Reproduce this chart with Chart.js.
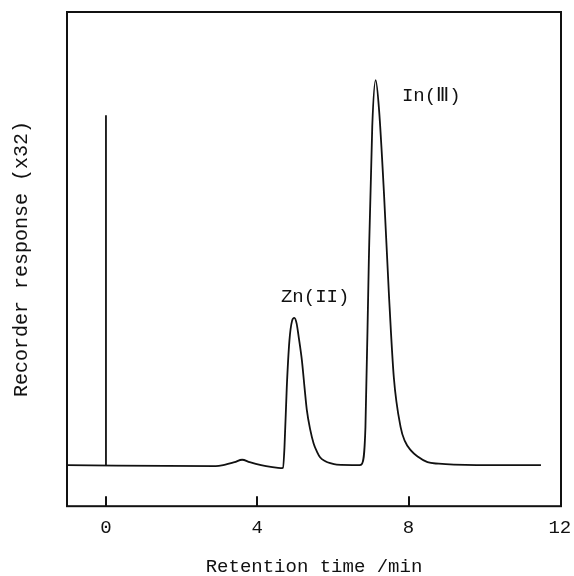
<!DOCTYPE html>
<html>
<head>
<meta charset="utf-8">
<script src="https://cdn.jsdelivr.net/npm/chart.js@4/dist/chart.umd.min.js"></script>
<style>
  html, body { margin: 0; padding: 0; background: #fff; }
  #wrap { width: 574px; height: 576px; }
</style>
</head>
<body>
<div id="wrap"><canvas id="chromatogram"></canvas></div>
<script>
// retention time (min) and recorder response (arbitrary units, 0-100)
var traceTime = [-1.05, 2.9, 3.1, 3.4, 3.6, 3.8, 4.1, 4.4, 4.62, 4.68, 4.72, 4.78, 4.85, 4.92, 4.98, 5.04, 5.1, 5.18, 5.25, 5.31, 5.4, 5.49, 5.58, 5.66, 5.8, 5.93, 6.1, 6.7, 6.77, 6.86, 6.95, 7.04, 7.13, 7.22, 7.35, 7.48, 7.61, 7.79, 7.9, 8.06, 8.25, 8.5, 8.8, 9.2, 9.8, 10.5, 11.5];
var traceResp = [8.3, 8.1, 8.3, 8.9, 9.4, 8.9, 8.3, 7.9, 7.7, 7.8, 12, 24, 33.5, 37.5, 38.1, 37, 34, 29.5, 24, 19.5, 15.5, 12.7, 11, 9.9, 9.1, 8.7, 8.4, 8.3, 8.6, 16, 49.8, 76.8, 86.2, 80.2, 63.3, 43, 26.1, 16, 13.2, 11.3, 10, 8.9, 8.6, 8.4, 8.3, 8.3, 8.3];
// injection marker
var injectTime = [0, 0];
var injectResp = [8.3, 79.1];
var tickValues = [0, 4, 8, 12];
// peak labels
var peakNames = ['Zn(II)', 'In(Ⅲ)'];
var peakLabelTime = [5.53, 8.6];
var peakLabelResp = [42.3, 83.0];

var monoFont = '"Courier New", "Liberation Mono", monospace';

function toPoints(xs, ys) {
  return xs.map(function (x, i) { return { x: x, y: ys[i] }; });
}

var framePlugin = {
  id: 'frame',
  afterDraw: function (chart) {
    var c = chart.ctx, a = chart.chartArea, xs = chart.scales.x, ys = chart.scales.y;
    c.save();
    c.strokeStyle = '#111';
    c.lineWidth = 2;
    c.strokeRect(a.left, a.top, a.right - a.left, a.bottom - a.top);
    // inward tick marks
    tickValues.forEach(function (v) {
      var px = Math.round(xs.getPixelForValue(v));
      if (px > a.left + 3 && px < a.right - 3) {
        c.beginPath();
        c.moveTo(px, a.bottom);
        c.lineTo(px, a.bottom - 10);
        c.stroke();
      }
    });
    // peak labels
    c.fillStyle = '#111';
    c.font = '19px ' + monoFont;
    c.textAlign = 'center';
    c.textBaseline = 'middle';
    peakNames.forEach(function (n, i) {
      c.fillText(n, xs.getPixelForValue(peakLabelTime[i]), ys.getPixelForValue(peakLabelResp[i]));
    });
    c.restore();
  }
};

var ctx = document.getElementById('chromatogram').getContext('2d');
var chromatogram = new Chart(ctx, {
  type: 'line',
  data: {
    datasets: [{
      data: toPoints(traceTime, traceResp),
      borderColor: '#111',
      borderWidth: 1.8,
      pointRadius: 0,
      cubicInterpolationMode: 'monotone',
      fill: false
    }, {
      data: toPoints(injectTime, injectResp),
      borderColor: '#111',
      borderWidth: 1.8,
      pointRadius: 0,
      fill: false
    }]
  },
  options: {
    responsive: true,
    maintainAspectRatio: false,
    animation: false,
    layout: { padding: { top: 12, right: 13, bottom: 0, left: 10 } },
    plugins: { legend: { display: false }, tooltip: { enabled: false } },
    scales: {
      x: {
        type: 'linear',
        min: -1.03,
        max: 12.03,
        afterBuildTicks: function (scale) {
          scale.ticks = tickValues.map(function (v) { return { value: v }; });
        },
        afterFit: function (scale) {
          // let the "12" label hang over the right margin
          scale.paddingLeft = 0;
          scale.paddingRight = 0;
        },
        grid: { display: false, drawTicks: false },
        border: { display: false },
        ticks: {
          padding: 10,
          color: '#111',
          maxRotation: 0,
          font: { family: monoFont, size: 19 }
        },
        title: {
          display: true,
          text: 'Retention time /min',
          color: '#111',
          padding: { top: 8, bottom: 0 },
          font: { family: monoFont, size: 19, lineHeight: 1 }
        }
      },
      y: {
        min: 0,
        max: 100,
        grid: { display: false, drawTicks: false },
        border: { display: false },
        ticks: { display: false },
        title: {
          display: true,
          text: 'Recorder response (x32)',
          color: '#111',
          padding: { top: 2, bottom: 35 },
          font: { family: monoFont, size: 20, lineHeight: 1 }
        }
      }
    }
  },
  plugins: [framePlugin]
});
</script>
</body>
</html>
